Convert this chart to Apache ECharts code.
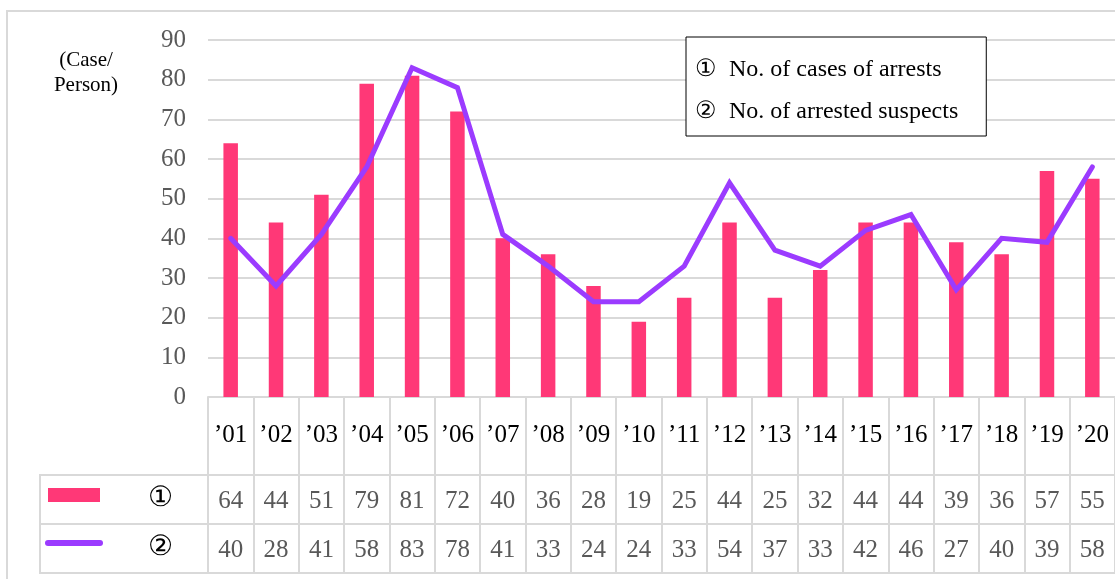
<!DOCTYPE html>
<html>
<head>
<meta charset="utf-8">
<script src="https://cdn.jsdelivr.net/npm/echarts@6/dist/echarts.min.js"></script>
<style>
html,body{margin:0;padding:0;background:#fff;}
#chart{width:1115px;height:579px;}
</style>
</head>
<body>
<div id="chart"></div>
<script>
const years = ['’01','’02','’03','’04','’05','’06','’07','’08','’09','’10','’11','’12','’13','’14','’15','’16','’17','’18','’19','’20'];
const arrestCases = [64,44,51,79,81,72,40,36,28,19,25,44,25,32,44,44,39,36,57,55];
const arrestedSuspects = [40,28,41,58,83,78,41,33,24,24,33,54,37,33,42,46,27,40,39,58];
const yTicks = [0,10,20,30,40,50,60,70,80,90];
const seriesNames = ['①  No. of cases of arrests', '②  No. of arrested suspects'];

const FONT = '"Liberation Serif", "Times New Roman", serif';
const GRID_C = '#D9D9D9';
const BAR_C = '#FF3877';
const LINE_C = '#9B3BFF';

const chart = echarts.init(document.getElementById('chart'), null, {renderer: 'canvas'});
const option = {
  animation: false,
  backgroundColor: '#fff',
  grid: {left: 208, top: 40, width: 912, height: 357, containLabel: false},
  legend: {
    data: seriesNames,
    orient: 'vertical',
    left: 686, top: 37,
    padding: [19, 28, 10, 3],
    itemGap: 14,
    itemWidth: 0, itemHeight: 0,
    borderColor: '#000', borderWidth: 1,
    backgroundColor: '#fff',
    selectedMode: false,
    textStyle: {fontFamily: FONT, fontSize: 24, color: '#000', lineHeight: 28}
  },
  xAxis: [
    {
      type: 'category', data: years, position: 'bottom',
      axisLine: {show: true, lineStyle: {color: GRID_C, width: 2}},
      axisTick: {show: true, length: 176, lineStyle: {color: GRID_C, width: 2}},
      axisLabel: {margin: 26, fontFamily: FONT, fontSize: 25, color: '#000'},
      splitLine: {show: false}
    },
    {
      type: 'category', data: years, position: 'bottom', offset: 78,
      axisLine: {show: true, lineStyle: {color: GRID_C, width: 2}},
      axisTick: {show: false},
      axisLabel: {margin: 14, fontFamily: FONT, fontSize: 25, color: '#595959',
        formatter: (v, i) => String(arrestCases[i])}
    },
    {
      type: 'category', data: years, position: 'bottom', offset: 127,
      axisLine: {show: true, lineStyle: {color: GRID_C, width: 2}},
      axisTick: {show: false},
      axisLabel: {margin: 14, fontFamily: FONT, fontSize: 25, color: '#595959',
        formatter: (v, i) => String(arrestedSuspects[i])}
    },
    {
      type: 'category', data: years, position: 'bottom', offset: 176,
      axisLine: {show: true, lineStyle: {color: GRID_C, width: 2}},
      axisTick: {show: false},
      axisLabel: {show: false}
    }
  ],
  yAxis: {
    type: 'value', min: yTicks[0], max: yTicks[yTicks.length - 1], interval: 10,
    axisLine: {show: false}, axisTick: {show: false},
    axisLabel: {margin: 22, fontFamily: FONT, fontSize: 25, color: '#595959'},
    splitLine: {show: true, lineStyle: {color: GRID_C, width: 2}}
  },
  series: [
    {
      name: seriesNames[0], type: 'bar', data: arrestCases,
      xAxisIndex: 0, barWidth: 14.5,
      itemStyle: {color: BAR_C}, z: 2
    },
    {
      name: seriesNames[1], type: 'line', data: arrestedSuspects,
      xAxisIndex: 0, symbol: 'none', smooth: false,
      lineStyle: {color: LINE_C, width: 5, cap: 'round', join: 'miter'},
      itemStyle: {color: LINE_C}, z: 3
    }
  ],
  graphic: [
    {type: 'rect', shape: {x: 7, y: 11, width: 1300, height: 800}, style: {fill: 'none', stroke: GRID_C, lineWidth: 2}, z: -1, silent: true},
    {type: 'text', x: 86, y: 48, style: {text: '(Case/\nPerson)', fontFamily: FONT, fontSize: 21, fill: '#000', textAlign: 'center', lineHeight: 25}},
    {type: 'line', shape: {x1: 40, y1: 475, x2: 208, y2: 475}, style: {stroke: GRID_C, lineWidth: 2}},
    {type: 'line', shape: {x1: 40, y1: 524, x2: 208, y2: 524}, style: {stroke: GRID_C, lineWidth: 2}},
    {type: 'line', shape: {x1: 40, y1: 573, x2: 208, y2: 573}, style: {stroke: GRID_C, lineWidth: 2}},
    {type: 'line', shape: {x1: 40, y1: 474, x2: 40, y2: 574}, style: {stroke: GRID_C, lineWidth: 2}},
    {type: 'rect', shape: {x: 48, y: 488, width: 52, height: 14}, style: {fill: BAR_C}},
    {type: 'line', shape: {x1: 48, y1: 543, x2: 100, y2: 543}, style: {stroke: LINE_C, lineWidth: 6, lineCap: 'round'}},
    {type: 'text', x: 160, y: 499, style: {text: '①', fontFamily: FONT, fontSize: 28, fill: '#000', textAlign: 'center', textVerticalAlign: 'middle'}},
    {type: 'text', x: 160, y: 548, style: {text: '②', fontFamily: FONT, fontSize: 28, fill: '#000', textAlign: 'center', textVerticalAlign: 'middle'}}
  ]
};
chart.setOption(option);
</script>
</body>
</html>
